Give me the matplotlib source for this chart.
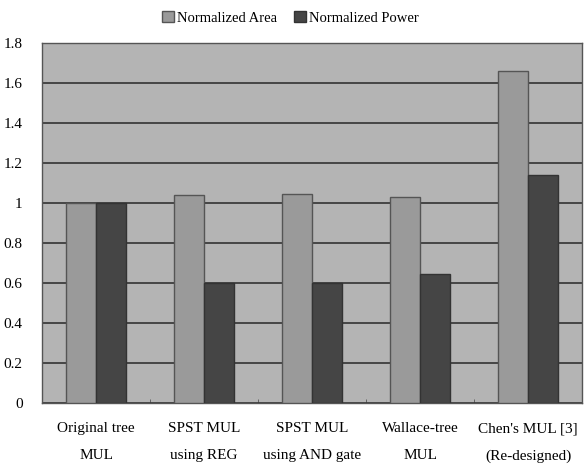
import numpy as np
import matplotlib.pyplot as plt

categories = ["Original tree\nMUL", "SPST MUL\nusing REG", "SPST MUL\nusing AND gate",
              "Wallace-tree\nMUL", "Chen's MUL [3]\n(Re-designed)"]
area = [1.0, 1.04, 1.045, 1.03, 1.66]
power = [1.0, 0.60, 0.60, 0.645, 1.14]
yticks = [0, 0.2, 0.4, 0.6, 0.8, 1, 1.2, 1.4, 1.6, 1.8]
ytick_labels = ["0", "0.2", "0.4", "0.6", "0.8", "1", "1.2", "1.4", "1.6", "1.8"]

plt.rcParams['font.family'] = ['Liberation Serif', 'DejaVu Serif']

fig = plt.figure(figsize=(5.84, 4.74), dpi=100)
ax = fig.add_axes([0.072, 0.150, 0.925, 0.759])
ax.set_facecolor("#b4b4b4")

x = np.arange(len(categories))
w = 0.28
ax.bar(x - w / 2, area, w, color="#9a9a9a", edgecolor="#555555", linewidth=1,
       label="Normalized Area", zorder=3)
ax.bar(x + w / 2, power, w, color="#454545", edgecolor="#333333", linewidth=1,
       label="Normalized Power", zorder=3)

ax.set_xlim(-0.5, len(categories) - 0.5)
ax.set_ylim(0, 1.8)
ax.set_yticks(yticks)
ax.set_yticklabels(ytick_labels, fontsize=11)
ax.set_xticks(x)
ax.set_xticklabels(categories, fontsize=11, linespacing=2.4)
ax.set_xticks(np.arange(len(categories) - 1) + 0.5, minor=True)
ax.tick_params(axis="both", which="major", length=0)
ax.tick_params(axis="x", which="major", pad=14)
ax.tick_params(axis="y", which="major", pad=14)
ax.tick_params(axis="x", which="minor", direction="in", length=3, color="#555555")
ax.yaxis.grid(True, color="#333333", linewidth=1.2, zorder=1)

for s in ax.spines.values():
    s.set_color("#555555")
    s.set_linewidth(1)

ax.legend(loc="lower center", bbox_to_anchor=(0.46, 1.035), ncol=2, frameon=False,
          fontsize=10.5, handlelength=0.8, handleheight=0.8, handletextpad=0.2,
          columnspacing=1.2, borderaxespad=0)

fig.savefig("out.png", dpi=100)
